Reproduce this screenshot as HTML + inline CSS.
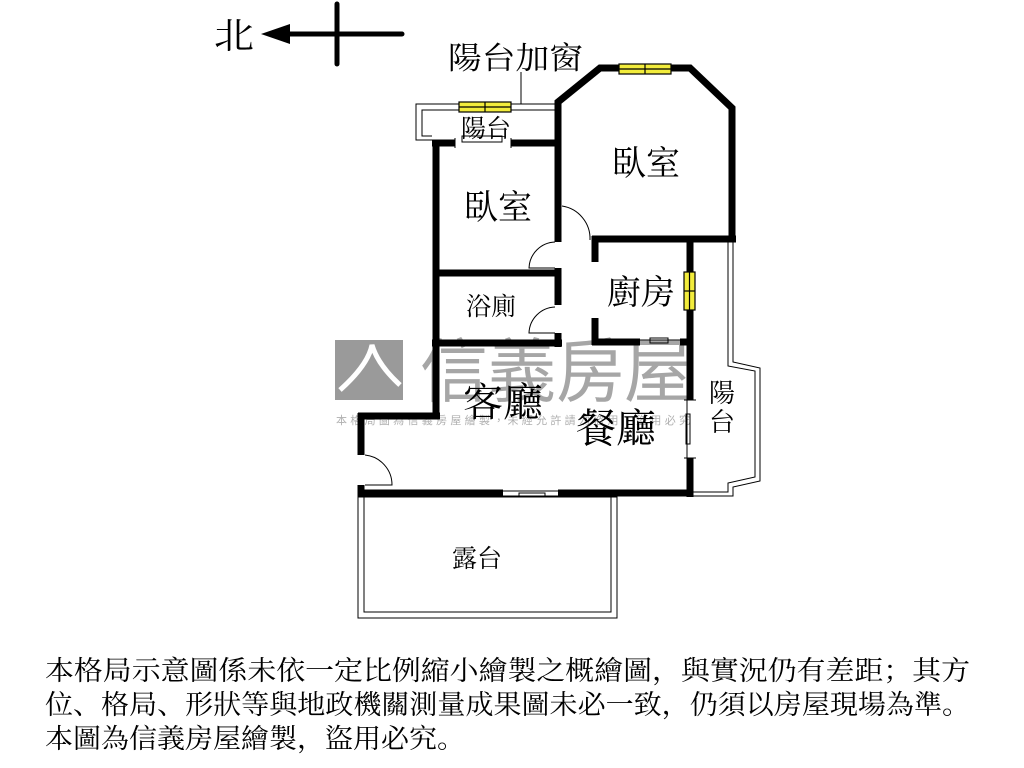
<!DOCTYPE html>
<html><head><meta charset="utf-8"><style>
html,body{margin:0;padding:0;background:#fff;}
svg{display:block;}
text{font-family:"Liberation Serif","Noto Serif CJK SC","Noto Sans CJK TC",serif;fill:#000;}
</style></head><body>
<svg width="1024" height="768" viewBox="0 0 1024 768" xmlns="http://www.w3.org/2000/svg">
<rect width="1024" height="768" fill="#fff"/>
<!-- north arrow -->
<text x="214" y="48" font-size="36" textLength="40" lengthAdjust="spacingAndGlyphs">北</text>
<line x1="285" y1="34" x2="402" y2="34" stroke="#000" stroke-width="5" stroke-linecap="round"/>
<polygon points="261,34 290,24 290,44" fill="#000"/>
<line x1="337" y1="4" x2="337" y2="64" stroke="#000" stroke-width="5" stroke-linecap="round"/>

<!-- watermark -->
<rect x="335" y="340" width="68" height="60" fill="#9a9a9a"/>
<path d="M340 390 Q368 365 372 345 Q378 365 400 385" stroke="#fff" stroke-width="5" fill="none"/>
<text x="420" y="396" font-size="70" fill="#a6a6a6" style="fill:#a6a6a6;font-family:'Liberation Sans','Noto Sans CJK TC',sans-serif" textLength="272" lengthAdjust="spacingAndGlyphs">信義房屋</text>
<text x="336" y="424" font-size="11" style="fill:#b0b0b0;font-family:'Liberation Sans','Noto Sans CJK TC',sans-serif" textLength="354" lengthAdjust="spacing">本格局圖為信義房屋繪製，未經允許請勿盜用，盜用必究</text>

<!-- balcony top (double thin) -->
<g fill="none" stroke="#000" stroke-width="1">
<polyline points="556,104 416,104 416,140 432,140"/>
<polyline points="556,110 422,110 422,136 432,136"/>
<!-- right balcony -->
<polyline points="693,236 733,236 733,362 760,368 760,481 733,487 733,496 693,496"/>
<polyline points="693,240 728,240 728,366 755,371 755,477 728,483 728,492 693,492"/>
<!-- terrace -->
<rect x="358" y="497" width="259" height="121"/>
<rect x="364" y="497" width="247" height="115"/>
</g>
<!-- windows yellow -->
<g stroke="#000" stroke-width="1.2" fill="#f2ec3c">
<rect x="459" y="102" width="52" height="10"/>
<line x1="485" y1="102" x2="485" y2="112"/><line x1="459" y1="107" x2="511" y2="107"/>
<rect x="619" y="64" width="52" height="10"/>
<line x1="645" y1="64" x2="645" y2="74"/><line x1="619" y1="69" x2="671" y2="69"/>
<rect x="684" y="272" width="11" height="38"/>
<line x1="684" y1="291" x2="695" y2="291"/><line x1="689.5" y1="272" x2="689.5" y2="310"/>
</g>
<!-- leader -->
<line x1="521" y1="72" x2="521" y2="104" stroke="#000" stroke-width="1"/>

<!-- thick walls -->
<g stroke="#000" stroke-width="7" fill="none" stroke-linecap="butt">
<line x1="436" y1="140" x2="436" y2="418"/>
<line x1="432" y1="143" x2="455" y2="143"/>
<line x1="511" y1="143" x2="558" y2="143"/>
<polyline points="558,242 558,102 600,68 619,68"/>
<polyline points="671,68 690,68 732,108 732,240"/>
<line x1="558" y1="268" x2="558" y2="305"/>
<line x1="558" y1="333" x2="558" y2="347"/>
<line x1="436" y1="273" x2="558" y2="273"/>
<line x1="432" y1="343" x2="562" y2="343"/>
<line x1="592" y1="239" x2="736" y2="239"/>
<line x1="595" y1="236" x2="595" y2="262"/>
<line x1="595" y1="318" x2="595" y2="345"/>
<line x1="592" y1="342" x2="640" y2="342"/>
<line x1="680" y1="342" x2="692" y2="342"/>
<line x1="690" y1="236" x2="690" y2="272"/>
<line x1="690" y1="310" x2="690" y2="400"/>
<line x1="690" y1="458" x2="690" y2="497"/>
<line x1="358" y1="493" x2="503" y2="493"/>
<line x1="558" y1="493" x2="693" y2="493"/>
<line x1="358" y1="416" x2="440" y2="416"/>
<line x1="361" y1="413" x2="361" y2="455"/>
<line x1="361" y1="485" x2="361" y2="497"/>
</g>
<!-- doors / thin details -->
<g stroke="#000" stroke-width="1" fill="none">
<path d="M562 206 A33 33 0 0 1 590 240"/><line x1="590" y1="236" x2="590" y2="240"/>
<path d="M555 242 A27 27 0 0 0 529 268 L555 268"/>
<path d="M555 307 A27 27 0 0 0 529 333 L555 333"/>
<path d="M365 455 A30 30 0 0 1 392 485 L365 485"/>
<rect x="462" y="136" width="40" height="6"/>
<line x1="455" y1="138" x2="455" y2="148"/><line x1="511" y1="138" x2="511" y2="148"/>
<line x1="640" y1="340" x2="680" y2="340"/><rect x="650" y="338" width="18" height="5"/>
<line x1="687" y1="400" x2="687" y2="458"/><rect x="686" y="414" width="4" height="30"/>
<line x1="503" y1="491" x2="558" y2="491"/><line x1="503" y1="496" x2="558" y2="496"/><rect x="519" y="493" width="26" height="4"/>
<line x1="684" y1="400" x2="696" y2="400"/><line x1="684" y1="458" x2="696" y2="458"/>
</g>

<!-- labels -->
<text x="448" y="69" font-size="31" textLength="135" lengthAdjust="spacingAndGlyphs">陽台加窗</text>
<text x="461" y="137" font-size="25" textLength="50" lengthAdjust="spacingAndGlyphs">陽台</text>
<text x="612" y="175" font-size="34">臥室</text>
<text x="464" y="219" font-size="34">臥室</text>
<text x="466" y="315" font-size="25">浴廁</text>
<text x="607" y="304" font-size="34">廚房</text>
<text x="463" y="416" font-size="40">客廳</text>
<text x="576" y="442" font-size="40">餐廳</text>
<text x="709" y="402" font-size="26">陽</text>
<text x="709" y="431" font-size="26">台</text>
<text x="452" y="567" font-size="25">露台</text>

<!-- footer -->
<text x="45" y="680" font-size="27" textLength="925" lengthAdjust="spacingAndGlyphs">本格局示意圖係未依一定比例縮小繪製之概繪圖，與實況仍有差距；其方</text>
<text x="45" y="714" font-size="27" textLength="925" lengthAdjust="spacingAndGlyphs">位、格局、形狀等與地政機關測量成果圖未必一致，仍須以房屋現場為準。</text>
<text x="45" y="748" font-size="27" textLength="420" lengthAdjust="spacingAndGlyphs">本圖為信義房屋繪製，盜用必究。</text>
</svg>
</body></html>
